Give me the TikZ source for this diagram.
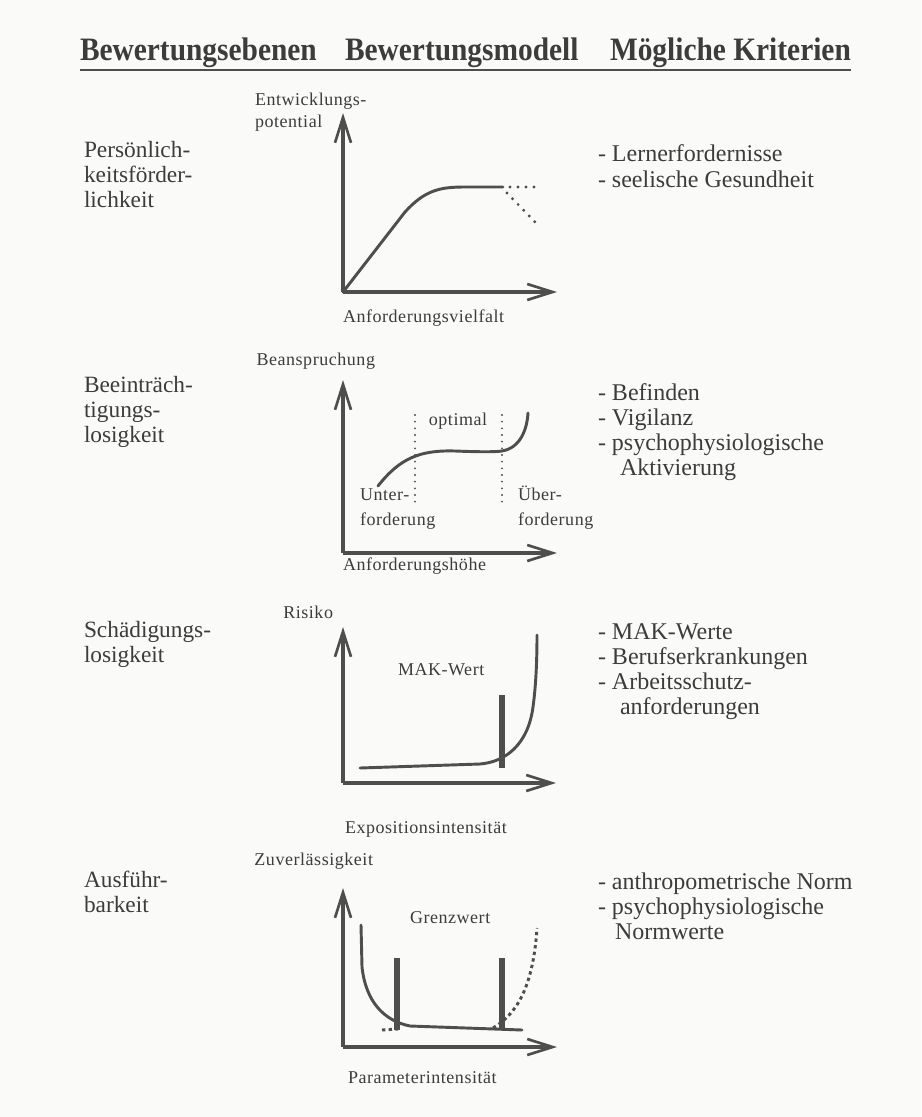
\documentclass[tikz,border=0pt]{standalone}
\usepackage{fontspec}
\setmainfont{Liberation Serif}
\newfontfamily\axisfont[LetterSpace=3]{Liberation Serif}
\usetikzlibrary{arrows.meta,calc}
\definecolor{ink}{HTML}{3C3C3C}
\definecolor{paper}{HTML}{FAFAF8}
\definecolor{pen}{HTML}{4E4E4E}

\begin{document}
\begin{tikzpicture}[x=0.75pt,y=-0.75pt,
  every node/.style={inner sep=0pt, outer sep=0pt, text=ink},
  heading/.style={anchor=base west, font=\bfseries\fontsize{24.5}{28}\selectfont},
  level/.style={anchor=base west, font=\fontsize{17.5}{21}\selectfont},
  crit/.style={anchor=base west, font=\fontsize{18}{21}\selectfont},
  axlabel/.style={font=\axisfont\fontsize{13.5}{16}\selectfont},
  axis/.style={draw=pen, line width=2.4pt,
    -{Straight Barb[length=19pt,width=12pt,line width=2pt]}},
  curve/.style={draw=pen, line width=2.2pt, line cap=round},
  limitbar/.style={draw=pen, line width=4pt},
  dots/.style={draw=pen, line width=2.4pt, line cap=round, dash pattern=on 0pt off 6pt},
  dashes/.style={draw=pen, line width=2.2pt, dash pattern=on 2.5pt off 2.5pt},
  guide/.style={draw=pen, line width=1.6pt, line cap=round, dash pattern=on 0pt off 5pt},
  rule/.style={draw=pen, line width=2.2pt},
]
\fill[paper] (0,0) rectangle (921,1117);
\useasboundingbox (0,0) rectangle (921,1117);

% ---- column headings ----
\node[heading] (h1) at (80,60) {\scalebox{0.9}[1]{Bewertungsebenen}};
\node[heading] (h2) at (345,60) {\scalebox{0.9}[1]{Bewertungsmodell}};
\node[heading] (h3) at (610,60) {\scalebox{0.9}[1]{Mögliche Kriterien}};
\draw[rule] ($(h1.base west)+(0,10)$) -- ($(h3.base east)+(0,10)$);

% ---- evaluation levels ----
\node[level] (l1a) at (84,157) {Persönlich-};
\node[level] (l1b) at (84,182) {keitsförder-};
\node[level] (l1c) at (84,207) {lichkeit};

\node[level] (l2a) at (84,392) {Beeinträch-};
\node[level] (l2b) at (84,417) {tigungs-};
\node[level] (l2c) at (84,442) {losigkeit};

\node[level] (l3a) at (84,637) {Schädigungs-};
\node[level] (l3b) at (84,662) {losigkeit};

\node[level] (l4a) at (84,887) {Ausführ-};
\node[level] (l4b) at (84,912) {barkeit};

% ---- criteria ----
\node[crit] (c1a) at (598,161) {- Lernerfordernisse};
\node[crit] (c1b) at (598,187) {- seelische Gesundheit};

\node[crit] (c2a) at (598,400) {- Befinden};
\node[crit] (c2b) at (598,425) {- Vigilanz};
\node[crit] (c2c) at (598,450) {- psychophysiologische};
\node[crit] (c2d) at (620,475) {Aktivierung};

\node[crit] (c3a) at (598,639) {- MAK-Werte};
\node[crit] (c3b) at (598,664) {- Berufserkrankungen};
\node[crit] (c3c) at (598,689) {- Arbeitsschutz-};
\node[crit] (c3d) at (620,714) {anforderungen};

\node[crit] (c4a) at (598,889) {- anthropometrische Norm};
\node[crit] (c4b) at (598,914) {- psychophysiologische};
\node[crit] (c4c) at (615,939) {Normwerte};

% ---- model 1: development potential ----
\coordinate (o1) at (343,292);
\coordinate (y1) at (343,113);
\coordinate (x1) at (557,292);
\draw[axis] (o1) -- (y1);
\draw[axis] (o1) -- (x1);
\draw[curve] (o1) -- (405,212) .. controls (425,190) and (440,187) .. (465,187) -- (503,187);
\draw[dots] (510,187) -- (534,187);
\draw[dots] (507,193) -- (536,223);
\node[axlabel, anchor=base west] (t1a) at (255,105) {Entwicklungs-};
\node[axlabel, anchor=base west] (t1b) at (255,127) {potential};
\node[axlabel, anchor=base west] (t1x) at (343,322) {Anforderungsvielfalt};

% ---- model 2: strain ----
\coordinate (o2) at (343,553);
\coordinate (y2) at (343,380);
\coordinate (x2) at (557,553);
\draw[axis] (o2) -- (y2);
\draw[axis] (o2) -- (x2);
\draw[guide] (415,415) -- (415,505);
\draw[guide] (502,415) -- (502,505);
\draw[curve] (378,486) .. controls (400,458) and (420,450) .. (455,451)
  .. controls (480,452) and (495,452) .. (502,451)
  .. controls (520,448) and (527,430) .. (528,413);
\node[axlabel, anchor=base east] (t2y) at (375,365) {Beanspruchung};
\node[axlabel, anchor=base] (t2o) at (458,425) {optimal};
\node[axlabel, anchor=base west] (t2u1) at (360,500) {Unter-};
\node[axlabel, anchor=base west] (t2u2) at (360,525) {forderung};
\node[axlabel, anchor=base west] (t2v1) at (518,500) {Über-};
\node[axlabel, anchor=base west] (t2v2) at (518,525) {forderung};
\node[axlabel, anchor=base west] (t2x) at (343,570) {Anforderungshöhe};

% ---- model 3: risk ----
\coordinate (o3) at (343,783);
\coordinate (y3) at (343,627);
\coordinate (x3) at (556,783);
\draw[axis] (o3) -- (y3);
\draw[axis] (o3) -- (x3);
\draw[curve] (360,768) -- (480,764) .. controls (505,762) and (528,745) .. (533,707)
  .. controls (536,685) and (537,660) .. (537,635);
\draw[limitbar] (502,695) -- (502,768);
\node[axlabel, anchor=base east] (t3y) at (333,618) {Risiko};
\node[axlabel, anchor=base west] (t3m) at (398,675) {MAK-Wert};
\node[axlabel, anchor=base west] (t3x) at (345,833) {Expositionsintensität};

% ---- model 4: reliability ----
\coordinate (o4) at (343,1047);
\coordinate (y4) at (343,888);
\coordinate (x4) at (557,1047);
\draw[axis] (o4) -- (y4);
\draw[axis] (o4) -- (x4);
\draw[curve] (361,925) -- (362,967) .. controls (366,1003) and (385,1021) .. (410,1026) -- (522,1030);
\draw[dashes] (382,1030) -- (398,1029);
\draw[dashes] (493,1028) .. controls (515,1015) and (533,990) .. (537,928);
\draw[limitbar] (397,958) -- (397,1030);
\draw[limitbar] (502,958) -- (502,1030);
\node[axlabel, anchor=base east] (t4y) at (373,865) {Zuverlässigkeit};
\node[axlabel, anchor=base west] (t4g) at (410,923) {Grenzwert};
\node[axlabel, anchor=base west] (t4x) at (348,1083) {Parameterintensität};
\end{tikzpicture}
\end{document}
